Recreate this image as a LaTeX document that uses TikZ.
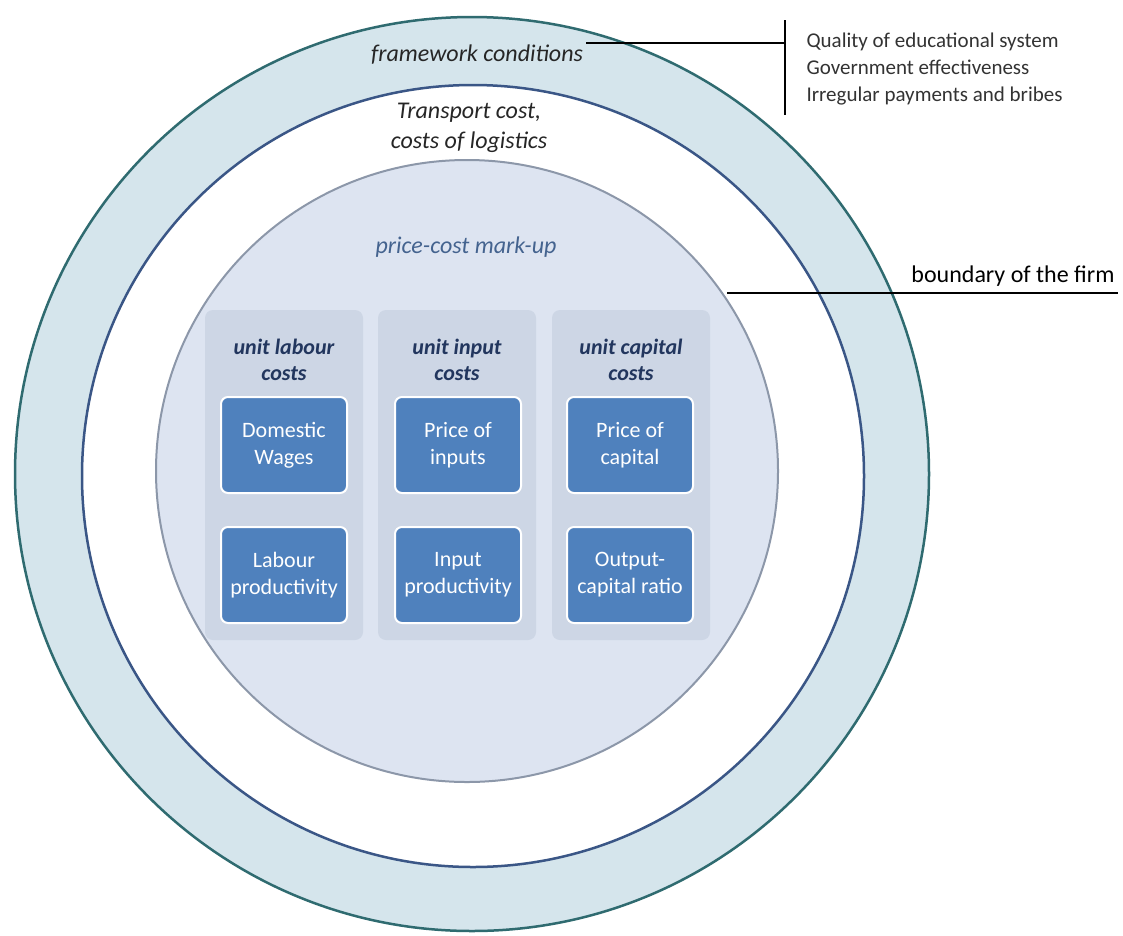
\documentclass[tikz,border=0pt]{standalone}
\usepackage{fontspec}
\setmainfont{Carlito}
\usepackage{tikz}

\definecolor{ringfill}{HTML}{D5E5EC}
\definecolor{ringline}{HTML}{2F6B70}
\definecolor{firmline}{HTML}{3A5686}
\definecolor{corefill}{HTML}{DDE4F1}
\definecolor{coreline}{HTML}{8C97A9}
\definecolor{panelfill}{HTML}{CDD6E5}
\definecolor{boxblue}{HTML}{4F81BD}
\definecolor{headblue}{HTML}{22365E}
\definecolor{markupblue}{HTML}{44638F}

\tikzset{
  panel/.style={rounded corners=8pt, fill=panelfill, minimum width=158pt, minimum height=330pt},
  costbox/.style={rounded corners=7pt, fill=boxblue, draw=white, line width=2pt,
    minimum width=126pt, minimum height=96pt, align=center, text=white,
    font=\fontsize{22}{27}\selectfont},
  head/.style={align=center, text=headblue, font=\fontsize{22}{26}\selectfont\bfseries\itshape},
  ringtext/.style={align=center, text=black!85, font=\fontsize{24}{30}\selectfont\itshape}
}

\begin{document}
\begin{tikzpicture}[x=1pt, y=-1pt]
    \useasboundingbox (0,0) rectangle (1123,935);
    \fill[white] (0,0) rectangle (1123,935);

    % the three circles
    \draw[fill=ringfill, draw=ringline, line width=2.5pt] (472,474) circle[radius=457pt];
    \draw[fill=white, draw=firmline, line width=2.5pt] (473,476) circle[radius=391pt];
    \draw[fill=corefill, draw=coreline, line width=2pt] (467,471) circle[radius=311pt];

    \node[ringtext] (fwk) at (477,55) {framework conditions};
    \node[ringtext] (trans) at (469,128) {Transport cost,\\costs of logistics};
    \node[ringtext, text=markupblue] (markup) at (466,247) {price-cost mark-up};

    % cost panels
    \node[panel] (labour) at (284,475) {};
    \node[panel] (input) at (457,475) {};
    \node[panel] (capital) at (631,475) {};

    \node[head] (labourhd) at (284,360) {unit labour\\costs};
    \node[head] (inputhd) at (457,360) {unit input\\costs};
    \node[head] (capitalhd) at (631,360) {unit capital\\costs};

    \node[costbox] (wages) at (284,445) {Domestic\\Wages};
    \node[costbox] (lprod) at (284,575) {Labour\\productivity};
    \node[costbox] (iprice) at (458,445) {Price of\\inputs};
    \node[costbox] (iprod) at (458,575) {Input\\productivity};
    \node[costbox] (cprice) at (630,445) {Price of\\capital};
    \node[costbox] (cratio) at (630,575) {Output-\\capital ratio};

    % framework factors
    \coordinate (bartop) at (785,20);
    \coordinate (barbot) at (785,115);
    \coordinate (tick) at (785,43);
    \node[anchor=west, align=left, text=black!80, font=\fontsize{21}{27}\selectfont] (factors) at (803,69)
        {Quality of educational system\\Government effectiveness\\Irregular payments and bribes};
    \draw[line width=2pt] (bartop) -- (barbot);
    \draw[line width=2pt] (fwk.east |- tick) -- (tick);

    % firm boundary
    \node[anchor=base east, font=\fontsize{24}{30}\selectfont] (firm) at (1118,282) {boundary of the firm};
    \coordinate (firmedge) at (727,293);
    \draw[line width=2pt] (firmedge) -- (firmedge -| firm.east);
\end{tikzpicture}
\end{document}
